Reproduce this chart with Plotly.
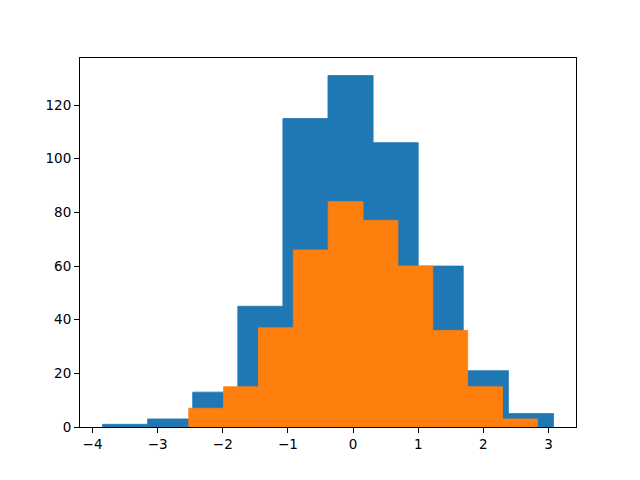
import plotly.graph_objects as go

# Histogram bin edges and counts
blue_edges = [-3.846, -3.154, -2.462, -1.769, -1.077, -0.385, 0.308, 1.0, 1.692, 2.385, 3.077]
blue_counts = [1, 3, 13, 45, 115, 131, 106, 60, 21, 5]

orange_edges = [-2.523, -1.988, -1.452, -0.917, -0.382, 0.154, 0.689, 1.225, 1.760, 2.295, 2.831]
orange_counts = [7, 15, 37, 66, 84, 77, 60, 36, 15, 3]

x_ticks = [-4, -3, -2, -1, 0, 1, 2, 3]
y_ticks = [0, 20, 40, 60, 80, 100, 120]


def bar_trace(edges, counts, color):
    centers = [(edges[i] + edges[i + 1]) / 2 for i in range(len(counts))]
    widths = [edges[i + 1] - edges[i] for i in range(len(counts))]
    return go.Bar(x=centers, y=counts, width=widths,
                  marker=dict(color=color, line=dict(width=0.8, color=color)),
                  showlegend=False, hoverinfo="skip")


fig = go.Figure()
fig.add_trace(bar_trace(blue_edges, blue_counts, "#1f77b4"))
fig.add_trace(bar_trace(orange_edges, orange_counts, "#ff7f0e"))

xspan = blue_edges[-1] - blue_edges[0]
xmin = blue_edges[0] - 0.05 * xspan
xmax = blue_edges[-1] + 0.05 * xspan
ymax = max(blue_counts) * 1.05

axis_common = dict(showgrid=False, zeroline=False, showline=True, linecolor="black", linewidth=1,
                   mirror=True, ticks="outside", ticklen=5, tickwidth=1, tickcolor="black",
                   tickfont=dict(family="DejaVu Sans", size=13.5, color="black"))

fig.update_layout(
    width=640, height=480,
    margin=dict(l=72, r=72, t=50, b=61),
    paper_bgcolor="white", plot_bgcolor="white",
    barmode="overlay",
    xaxis=dict(range=[xmin, xmax], tickvals=x_ticks, ticktext=[str(v).replace("-", "−") for v in x_ticks], **axis_common),
    yaxis=dict(range=[0, ymax], tickvals=y_ticks, **axis_common),
)

fig.write_html("out.html")
